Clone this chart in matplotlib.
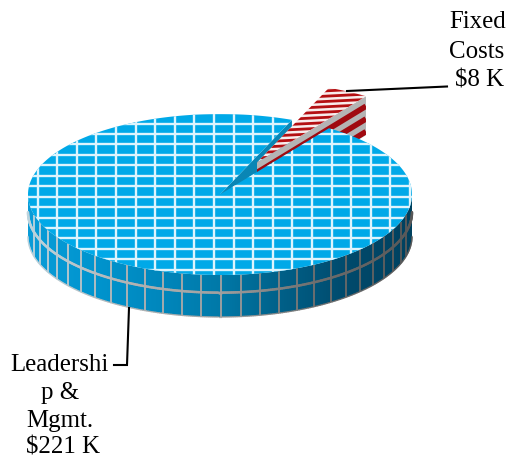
import numpy as np
import matplotlib
matplotlib.use("Agg")
import matplotlib.pyplot as plt
from matplotlib.patches import Polygon
from matplotlib.colors import LinearSegmentedColormap

categories = ["Leadership & Mgmt.", "Fixed Costs"]
values = [221, 8]
value_labels = ["$221 K", "$8 K"]
leadership_lines = ["Leadershi", "p &", "Mgmt.", "$221 K"]
fixed_lines = ["Fixed", "Costs", "$8 K"]

W, H = 507, 459
fig = plt.figure(figsize=(W / 100, H / 100), dpi=100)
ax = fig.add_axes([0, 0, 1, 1])
ax.set_xlim(0, W)
ax.set_ylim(H, 0)
ax.axis("off")

CX, CY, RX, RY, DEPTH = 220.0, 194.5, 192.0, 80.5, 42.0
OX, OY, RED_DEPTH = 37.0, -32.0, 39.0
START = 68.0
span_small = values[1] / sum(values) * 360
a_left = START
a_right = START - span_small


def rim(a, cx=CX, cy=CY):
    a = np.radians(a)
    return np.column_stack([cx + RX * np.cos(a), cy - RY * np.sin(a)])


def sector(a0, a1, cx=CX, cy=CY):
    ang = np.linspace(a0, a1, 400)
    return np.vstack([[cx, cy], rim(ang, cx, cy)])


# outer wall of blue slice (front half)
ang = np.linspace(180, 360, 300)
top = rim(ang)
bottom = top + [0, DEPTH]
wall_poly = np.vstack([top, bottom[::-1]])
cmap = LinearSegmentedColormap.from_list(
    "wall", ["#0A9CD8", "#0095CF", "#0088BE", "#0079A8", "#005F87", "#004A6C", "#00415F"]
)
grad = np.linspace(0, 1, 256).reshape(1, -1)
im = ax.imshow(grad, extent=[CX - RX, CX + RX, H, 0], cmap=cmap, aspect="auto", zorder=1)
clip_wall = Polygon(wall_poly, closed=True, transform=ax.transData)
im.set_clip_path(clip_wall)
ax.set_xlim(0, W)
ax.set_ylim(H, 0)

# wall grid, lighter on the lit side
grid_cmap = LinearSegmentedColormap.from_list("g", ["#BCD4DE", "#B4B4B4", "#A0A0A0", "#6E6E6E", "#585858"])


def grid_col(x):
    return grid_cmap((x - CX + RX) / (2 * RX))


for k in range(-13, 14):
    a = 270 + k * 5.83 + 0.3
    p = rim(np.array([a]))[0]
    l, = ax.plot([p[0], p[0]], [p[1], p[1] + DEPTH], color=grid_col(p[0]), lw=1.35, zorder=2,
                 solid_capstyle="butt")
    l.set_clip_path(clip_wall)
mid = top + [0, DEPTH * 0.42]
for i in range(len(mid) - 1):
    ax.plot(mid[i:i + 2, 0], mid[i:i + 2, 1], color=grid_col(mid[i, 0]), lw=1.8, zorder=2,
            solid_capstyle="round")
for i in range(len(bottom) - 1):
    ax.plot(bottom[i:i + 2, 0], bottom[i:i + 2, 1], color=grid_col(bottom[i, 0]), lw=0.9, alpha=0.8, zorder=2)

# inner cut wall of the big slice
pl = rim(np.array([a_left]))[0]
ax.add_patch(Polygon([[CX, CY], pl, pl + [0, DEPTH], [CX, CY + DEPTH]], closed=True, fc="#0A86B5", ec="none", zorder=3))

# exploded small slice: cut wall
rc = np.array([CX + OX, CY + OY])
pr = rim(np.array([a_right]), *rc)[0]
red_wall = np.array([rc, pr, pr + [0, RED_DEPTH], rc + [0, RED_DEPTH]])
rw = Polygon(red_wall, closed=True, fc="#B4B4B4", ec="none", zorder=4)
ax.add_patch(rw)
slope = (pr[1] - rc[1]) / (pr[0] - rc[0])
for off in np.arange(10, 70, 12.7):
    x = np.array([rc[0], pr[0]])
    l, = ax.plot(x, rc[1] + slope * (x - rc[0]) + off, color="#A00A10", lw=4.0, zorder=4.1, solid_capstyle="butt")
    l.set_clip_path(rw)

# exploded small slice: top
red_top = sector(a_right, a_left, *rc)
rt = Polygon(red_top, closed=True, fc="#F8ECEC", ec="none", zorder=5)
ax.add_patch(rt)
for y in np.arange(rc[1] + 6, 80, -5.3):
    x = np.array([rc[0] - 5, pr[0] + 5])
    l, = ax.plot(x, y - 0.05 * (x - rc[0]), color="#B40F12", lw=2.0, zorder=5.1, solid_capstyle="butt")
    l.set_clip_path(rt)

# top of the big slice
blue_top = sector(a_left, a_right + 360)
bt = Polygon(blue_top, closed=True, fc="#00A9E8", ec="none", zorder=6)
ax.add_patch(bt)
for x in 214 + 19.6 * np.arange(-10, 11):
    l, = ax.plot([x, x], [100, 290], color="#DDF4FD", lw=1.7, zorder=6.1, solid_capstyle="butt")
    l.set_clip_path(bt)
for y in 144.4 + 10.45 * np.arange(-4, 14):
    l, = ax.plot([20, 420], [y, y], color="#DDF4FD", lw=1.7, zorder=6.1, solid_capstyle="butt")
    l.set_clip_path(bt)

# leaders
ax.plot([347, 447], [91, 86.5], color="black", lw=1.5, zorder=7)
ax.plot([129, 127, 114], [308, 365, 365], color="black", lw=1.5, zorder=7, solid_joinstyle="miter")

tkw = dict(family="Liberation Serif", fontsize=17.9, ha="center", va="baseline", color="black", zorder=8)
for t, x, y in zip(fixed_lines, [477.5, 477, 480], [28, 57.5, 86]):
    ax.text(x, y, t, **tkw)
for t, x, y in zip(leadership_lines, [59, 60, 60, 63], [371, 399, 426.5, 453.5]):
    ax.text(x, y, t, **tkw)

fig.savefig("out.png", dpi=100)
